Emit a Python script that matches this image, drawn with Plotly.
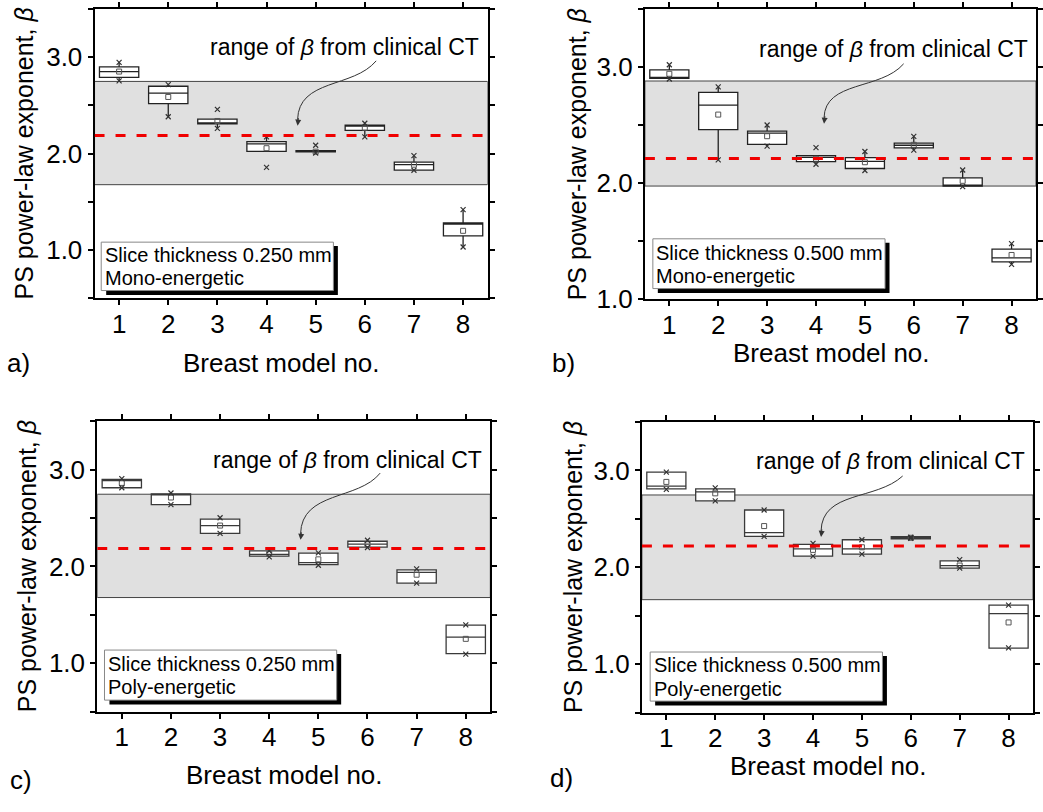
import plotly.graph_objects as go

W, H = 1043, 812
FONT = "Liberation Sans, Arial, sans-serif"

models = [1, 2, 3, 4, 5, 6, 7, 8]
model_labels = ["1", "2", "3", "4", "5", "6", "7", "8"]

# ---------------- panel a: 0.250 mm, mono-energetic ----------------
a_q1 = [2.790, 2.517, 2.308, 2.023, 2.018, 2.241, 1.828, 1.147]
a_med = [2.849, 2.627, 2.315, 2.100, 2.025, 2.295, 1.885, 1.281]
a_q3 = [2.899, 2.698, 2.358, 2.124, 2.030, 2.295, 1.912, 1.281]
a_mean = [2.850, 2.587, 2.338, 2.056, 2.020, 2.268, 1.885, 1.200]
a_lo = [2.754, 2.382, 2.261, 2.023, 2.018, 2.174, 1.828, 1.032]
a_hi = [2.946, 2.714, 2.358, 2.174, 2.030, 2.315, 1.979, 1.419]
a_min = [2.754, 2.382, 2.261, 1.858, 2.006, 2.174, 1.828, 1.032]
a_max = [2.946, 2.714, 2.459, 2.174, 2.087, 2.315, 1.979, 1.419]
a_band = [1.678, 2.748]
a_ref = 2.187

# ---------------- panel b: 0.500 mm, mono-energetic ----------------
b_q1 = [2.901, 2.461, 2.334, 2.185, 2.126, 2.303, 1.975, 1.323]
b_med = [2.905, 2.671, 2.430, 2.222, 2.188, 2.326, 1.983, 1.357]
b_q3 = [2.975, 2.781, 2.447, 2.236, 2.219, 2.345, 2.045, 1.433]
b_mean = [2.941, 2.590, 2.404, 2.210, 2.180, 2.330, 2.020, 1.382]
b_lo = [2.896, 2.200, 2.318, 2.163, 2.109, 2.284, 1.970, 1.301]
b_hi = [3.019, 2.828, 2.500, 2.236, 2.272, 2.402, 2.113, 1.480]
b_min = [2.896, 2.200, 2.318, 2.163, 2.109, 2.284, 1.970, 1.301]
b_max = [3.019, 2.828, 2.500, 2.306, 2.272, 2.402, 2.113, 1.480]
b_band = [1.975, 2.879]
b_ref = 2.213

# ---------------- panel c: 0.250 mm, poly-energetic ----------------
c_q1 = [2.814, 2.639, 2.342, 2.108, 2.020, 2.200, 1.828, 1.100]
c_med = [2.895, 2.745, 2.423, 2.125, 2.040, 2.231, 1.939, 1.269]
c_q3 = [2.899, 2.750, 2.490, 2.162, 2.138, 2.261, 1.966, 1.394]
c_mean = [2.864, 2.713, 2.423, 2.130, 2.074, 2.230, 1.915, 1.252]
c_lo = [2.814, 2.639, 2.342, 2.108, 2.020, 2.200, 1.828, 1.100]
c_hi = [2.899, 2.750, 2.490, 2.162, 2.138, 2.261, 1.966, 1.394]
c_min = [2.814, 2.639, 2.342, 2.100, 2.013, 2.196, 1.828, 1.094]
c_max = [2.909, 2.760, 2.504, 2.162, 2.141, 2.271, 1.976, 1.397]
c_band = [1.679, 2.747]
c_ref = 2.185

# ---------------- panel d: 0.500 mm, poly-energetic ----------------
d_q1 = [2.811, 2.686, 2.319, 2.116, 2.137, 2.295, 1.991, 1.165]
d_med = [2.838, 2.780, 2.359, 2.190, 2.190, 2.305, 2.018, 1.522]
d_q3 = [2.983, 2.811, 2.592, 2.238, 2.285, 2.318, 2.066, 1.610]
d_mean = [2.882, 2.764, 2.426, 2.180, 2.207, 2.305, 2.018, 1.431]
d_lo = [2.811, 2.686, 2.319, 2.116, 2.137, 2.295, 1.991, 1.165]
d_hi = [2.983, 2.811, 2.592, 2.238, 2.285, 2.318, 2.066, 1.610]
d_min = [2.805, 2.686, 2.319, 2.116, 2.137, 2.300, 1.991, 1.168]
d_max = [2.983, 2.821, 2.592, 2.248, 2.285, 2.310, 2.079, 1.610]
d_band = [1.666, 2.747]
d_ref = 2.220

y_ranges = {"a": [0.5, 3.5], "b": [1.0, 3.5], "c": [0.5, 3.5], "d": [0.5, 3.5]}
legend_lines = {
    "a": ["Slice thickness 0.250 mm", "Mono-energetic"],
    "b": ["Slice thickness 0.500 mm", "Mono-energetic"],
    "c": ["Slice thickness 0.250 mm", "Poly-energetic"],
    "d": ["Slice thickness 0.500 mm", "Poly-energetic"],
}
annot_text = "range of <i>β</i> from clinical CT"
x_title = "Breast model no."
y_title = "PS power-law exponent, <i>β</i>"

# ---------------- layout geometry (pixels) ----------------
geom = {
    "a": dict(area=[95, 490, 9, 304], box=[101.7, 335, 246.7, 296], txt=[103, 259.3, 283.3],
              rng=[483, 48], arrow=[(378, 62), (355, 90), (300, 80), (299, 128)],
              xt=(283, 370), yt=(24, 156.5), lab=(18.5, 370)),
    "b": dict(area=[648, 1041, 9, 305], box=[656, 889.3, 243.3, 294], txt=[657.5, 257.3, 281.7],
              rng=[1035, 50], arrow=[(908, 65), (885, 92), (829, 82), (828, 126)],
              xt=(836, 360), yt=(580, 157), lab=(566.5, 370)),
    "c": dict(area=[97.7, 492.7, 429.3, 725], box=[105, 338.3, 662.3, 713.3], txt=[106.5, 676, 700],
              rng=[486.7, 468.3], arrow=[(382, 482), (360, 510), (303, 500), (302, 550)],
              xt=(286, 790), yt=(27, 577), lab=(21, 795)),
    "d": dict(area=[645, 1038, 430, 726], box=[653.3, 886.7, 664.3, 714.3], txt=[655, 677.3, 701.7],
              rng=[1031.7, 470], arrow=[(907, 485), (880, 510), (826, 500), (825, 547)],
              xt=(832, 780), yt=(576, 577.5), lab=(564, 793)),
}


def px(x):
    return x / W


def py(y):
    return 1 - y / H


panels = {
    "a": (a_q1, a_med, a_q3, a_mean, a_lo, a_hi, a_min, a_max, a_band, a_ref),
    "b": (b_q1, b_med, b_q3, b_mean, b_lo, b_hi, b_min, b_max, b_band, b_ref),
    "c": (c_q1, c_med, c_q3, c_mean, c_lo, c_hi, c_min, c_max, c_band, c_ref),
    "d": (d_q1, d_med, d_q3, d_mean, d_lo, d_hi, d_min, d_max, d_band, d_ref),
}

fig = go.Figure()
shapes = []
annotations = []
layout_axes = {}

for i, key in enumerate(["a", "b", "c", "d"]):
    q1, med, q3, mean, lo, hi, mn, mx, band, ref = panels[key]
    g = geom[key]
    n = "" if i == 0 else str(i + 1)
    xa, ya = "x" + n, "y" + n
    box_col = "#222222" if key in ("a", "b") else "#3a3a3a"

    fig.add_trace(go.Box(
        x=models, q1=q1, median=med, q3=q3, lowerfence=lo, upperfence=hi,
        width=0.8, fillcolor="white", line=dict(color=box_col, width=1.3),
        whiskerwidth=0, boxpoints=False, showlegend=False, xaxis=xa, yaxis=ya,
    ))
    fig.add_trace(go.Scatter(
        x=models, y=mean, mode="markers", showlegend=False, xaxis=xa, yaxis=ya,
        marker=dict(symbol="square-open", size=5, color="#555555", line=dict(width=1)),
    ))
    fig.add_trace(go.Scatter(
        x=models + models, y=mn + mx, mode="markers", showlegend=False, xaxis=xa, yaxis=ya,
        marker=dict(symbol="x-thin-open", size=5, color="#333333", line=dict(width=1.2)),
    ))

    l, r, t, b = g["area"]
    axis_common = dict(
        showline=True, linewidth=2, linecolor="black", mirror="ticks",
        ticks="outside", ticklen=5, tickwidth=2, tickcolor="black",
        showgrid=False, zeroline=False,
        tickfont=dict(family=FONT, size=26, color="black"),
    )
    layout_axes["xaxis" + n] = dict(
        axis_common, domain=[px(l), px(r)], range=[0.5, 8.5], anchor=ya,
        tickmode="array", tickvals=models, ticktext=model_labels,
        ticklabelstandoff=-4,
    )
    layout_axes["yaxis" + n] = dict(
        axis_common, domain=[py(b), py(t)], range=y_ranges[key], anchor=xa,
        tick0=0, dtick=1, tickformat=".1f",
        minor=dict(dtick=0.5, ticks="outside", ticklen=5, tickwidth=2, tickcolor="black", showgrid=False),
    )

    # clinical CT range band
    shapes.append(dict(type="rect", xref=xa, yref=ya, x0=0.5, x1=8.5, y0=band[0], y1=band[1],
                       fillcolor="rgb(224,224,224)", line=dict(color="#444444", width=1), layer="below"))
    # reference dashed line
    shapes.append(dict(type="line", xref=xa, yref=ya, x0=0.5, x1=8.5, y0=ref, y1=ref,
                       line=dict(color="rgb(240,0,0)", width=3, dash="10px,11px"), layer="above"))

    # text box with shadow
    bx0, bx1, by0, by1 = g["box"]
    shapes.append(dict(type="rect", xref="paper", yref="paper",
                       x0=px(bx0 + 5), x1=px(bx1 + 4.5), y0=py(by1 + 4.5), y1=py(by0 + 4),
                       fillcolor="black", line=dict(width=0), layer="above"))
    shapes.append(dict(type="rect", xref="paper", yref="paper",
                       x0=px(bx0), x1=px(bx1), y0=py(by1), y1=py(by0),
                       fillcolor="white", line=dict(color="#888888", width=1), layer="above"))
    tx, ty1, ty2 = g["txt"]
    for line_text, yy in zip(legend_lines[key], [ty1, ty2]):
        annotations.append(dict(text=line_text, xref="paper", yref="paper", x=px(tx), y=py(yy),
                                xanchor="left", yanchor="middle", showarrow=False,
                                font=dict(family=FONT, size=20, color="black")))

    # "range of beta" label
    rx, ry = g["rng"]
    annotations.append(dict(text=annot_text, xref="paper", yref="paper", x=px(rx), y=py(ry),
                            xanchor="right", yanchor="middle", showarrow=False,
                            font=dict(family=FONT, size=23, color="black")))
    # curved arrow
    (x0, y0), (x1, y1), (x2, y2), (x3, y3) = g["arrow"]
    path = "M {},{} C {},{} {},{} {},{}".format(px(x0), py(y0), px(x1), py(y1), px(x2), py(y2), px(x3), py(y3 - 6))
    shapes.append(dict(type="path", xref="paper", yref="paper", path=path,
                       line=dict(color="#333333", width=1), layer="above"))
    annotations.append(dict(text="", xref="paper", yref="paper", x=px(x3), y=py(y3),
                            ax=1, ay=-9, showarrow=True, arrowhead=2, arrowsize=1.2,
                            arrowwidth=1, arrowcolor="#333333"))

    # axis titles and panel label
    xt = g["xt"]
    annotations.append(dict(text=x_title, xref="paper", yref="paper", x=px(xt[0]), y=py(xt[1]),
                            xanchor="center", yanchor="middle", showarrow=False,
                            font=dict(family=FONT, size=26, color="black")))
    yt = g["yt"]
    annotations.append(dict(text=y_title, xref="paper", yref="paper", x=px(yt[0]), y=py(yt[1]),
                            xanchor="center", yanchor="middle", showarrow=False, textangle=-90,
                            font=dict(family=FONT, size=25, color="black")))
    lab = g["lab"]
    annotations.append(dict(text=key + ")", xref="paper", yref="paper", x=px(lab[0]), y=py(lab[1]),
                            xanchor="center", yanchor="middle", showarrow=False,
                            font=dict(family=FONT, size=26, color="black")))

fig.update_layout(
    width=W, height=H,
    margin=dict(l=0, r=0, t=0, b=0),
    paper_bgcolor="white", plot_bgcolor="white",
    shapes=shapes, annotations=annotations,
    font=dict(family=FONT, color="black"),
    showlegend=False,
    **layout_axes,
)

fig.write_html(
    "out.html",
    config={"displayModeBar": False},
    post_script="document.body.style.margin='0px';document.body.style.overflow='hidden';",
)
